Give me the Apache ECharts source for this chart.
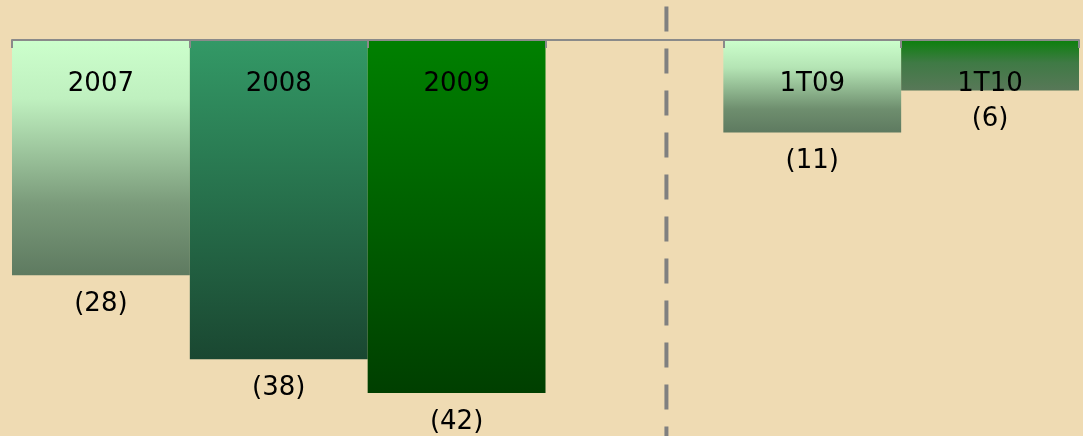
<!DOCTYPE html>
<html>
<head>
<meta charset="utf-8">
<title>chart</title>
<script src="https://cdn.jsdelivr.net/npm/echarts@6/dist/echarts.min.js"></script>
<style>
  html, body { margin: 0; padding: 0; background: #efdbb3; }
  #main { width: 1083px; height: 436px; }
</style>
</head>
<body>
<div id="main"></div>
<script>
  // 类目与数值
  var categories = ['2007', '2008', '2009', '', '1T09', '1T10'];
  var values = [-28, -38, -42, null, -11, -6];
  // 分隔线位置（类目坐标）
  var separatorAt = 3.68;

  // 每根柱子的渐变色（上 -> 下）
  var barColors = [
    [[0, '#ccffcc'], [0.25, '#bff0bf'], [0.7, '#7a9a7a'], [1, '#5e7a60']],
    [[0, '#339966'], [1, '#1a4731']],
    [[0, '#008000'], [1, '#003f00']],
    [[0, '#ffffff'], [1, '#ffffff']],
    [[0, '#ccffcc'], [0.3, '#b4e4b4'], [0.75, '#6e8e6e'], [1, '#5e7a60']],
    [[0, '#0c800c'], [0.45, '#3f7a45'], [1, '#587858']]
  ];

  var font = 'Verdana, "DejaVu Sans", sans-serif';

  var chart = echarts.init(document.getElementById('main'));

  var barData = values.map(function (v, i) {
    var stops = barColors[i].map(function (s) { return { offset: s[0], color: s[1] }; });
    return {
      value: v,
      itemStyle: { color: new echarts.graphic.LinearGradient(0, 0, 0, 1, stops) }
    };
  });

  var option = {
    backgroundColor: '#efdbb3',
    animation: false,
    grid: {
      left: 12,
      right: 4,
      top: 40,
      bottom: 1
    },
    xAxis: [{
      type: 'category',
      position: 'top',
      data: categories,
      z: 10,
      axisLine: {
        onZero: false,
        lineStyle: { color: '#8a8a8a', width: 2 }
      },
      axisTick: {
        show: true,
        inside: true,
        length: 8,
        lineStyle: { color: '#8a8a8a', width: 2 }
      },
      axisLabel: {
        inside: true,
        interval: 0,
        margin: 31,
        color: '#000',
        fontFamily: font,
        fontSize: 26
      },
      splitLine: { show: false }
    }, {
      // 隐藏的数值轴，仅用于换算分隔虚线位置
      type: 'value',
      min: 0,
      max: 6,
      show: false
    }],
    yAxis: [{
      type: 'value',
      min: -47,
      max: 0,
      show: false,
      splitLine: { show: false }
    }],
    series: [{
      name: 'values',
      type: 'bar',
      barCategoryGap: 0,
      data: barData,
      label: {
        show: true,
        position: 'bottom',
        distance: 16,
        color: '#000',
        fontFamily: font,
        fontSize: 26,
        formatter: function (p) {
          return '(' + Math.abs(p.value) + ')';
        }
      }
    }]
  };

  chart.setOption(option);

  // 分隔虚线：位置由隐藏数值轴换算
  var sepX = chart.convertToPixel({ xAxisIndex: 1 }, separatorAt);
  var topY = chart.convertToPixel({ yAxisIndex: 0 }, 4);
  chart.setOption({
    graphic: [{
      type: 'line',
      silent: true,
      z: 5,
      shape: { x1: sepX, y1: topY, x2: sepX, y2: 436 },
      style: {
        stroke: '#808080',
        lineWidth: 4,
        lineDash: [25, 17]
      }
    }]
  });
</script>
</body>
</html>
